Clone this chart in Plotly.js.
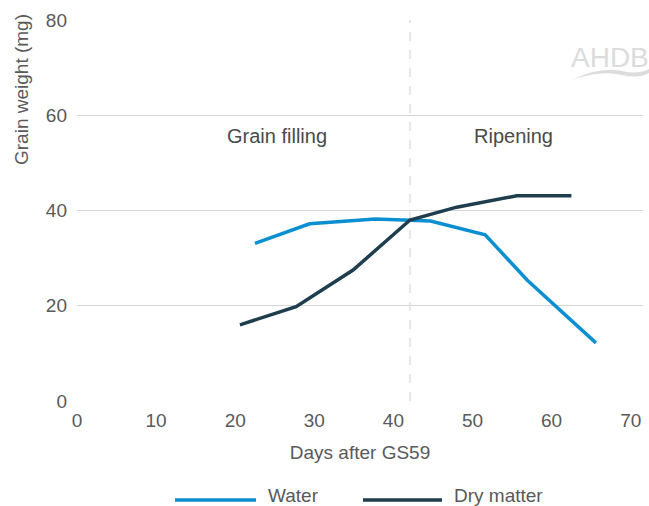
<!DOCTYPE html>
<html>
<head>
<meta charset="utf-8">
<script src="https://cdn.plot.ly/plotly-3.0.1.min.js"></script>
<style>html,body{margin:0;padding:0;background:#fff;}#chart{width:649px;height:506px;}</style>
</head>
<body>
<div id="chart"></div>
<script>
// Data
const waterDays = [22.5, 29.4, 37.7, 44.7, 51.6, 56.9, 65.6];
const waterWeight = [33.1, 37.2, 38.2, 37.8, 34.9, 25.4, 12.2];
const dryDays = [20.6, 27.7, 34.9, 42.1, 48.0, 55.6, 62.5];
const dryWeight = [16.0, 19.8, 27.5, 38.0, 40.7, 43.1, 43.1];
const seriesNames = ["Water", "Dry matter"];
const phaseLabels = ["Grain filling", "Ripening"];
const phaseLabelX = [25.3, 55.2];
const phaseLabelY = 55.7;
const phaseBoundary = 42.1;
const xTicks = [0, 10, 20, 30, 40, 50, 60, 70];
const yTicks = [0, 20, 40, 60, 80];
const xTitle = "Days after GS59";
const yTitle = "Grain weight (mg)";

const WATER = "#0b8fd0", DRY = "#1f3e4d", TXT = "#595959";
const FONT = "Liberation Sans, Arial, Helvetica, sans-serif";

// plot-area geometry for decorative items in paper coordinates
const L = 77, T = 20, W = 566, H = 381;
const px = x => (x - L) / W;
const py = y => (T + H - y) / H;

const traces = [
  {x: waterDays, y: waterWeight, name: seriesNames[0], mode: "lines",
   line: {color: WATER, width: 3.5}, showlegend: false, hoverinfo: "skip"},
  {x: dryDays, y: dryWeight, name: seriesNames[1], mode: "lines",
   line: {color: DRY, width: 3.5}, showlegend: false, hoverinfo: "skip"}
];

const swoosh = "M " + px(572) + "," + py(80) +
  " Q " + px(600) + "," + py(66) + " " + px(622) + "," + py(71) +
  " Q " + px(638) + "," + py(75) + " " + px(649) + "," + py(69) +
  " L " + px(649) + "," + py(73) +
  " Q " + px(638) + "," + py(79) + " " + px(622) + "," + py(75) +
  " Q " + px(600) + "," + py(70) + " " + px(572) + "," + py(80) + " Z";

const layout = {
  width: 649, height: 506,
  margin: {l: L, r: 649 - L - W, t: T, b: 506 - T - H, pad: 0},
  paper_bgcolor: "#fff", plot_bgcolor: "#fff",
  font: {family: FONT, color: TXT, size: 19},
  showlegend: false,
  xaxis: {
    range: [0, W / 79.1 * 10], tickvals: xTicks, ticktext: xTicks.map(String),
    showgrid: false, zeroline: false, showline: false, ticks: "",
    tickfont: {size: 19, color: TXT}, ticklabelstandoff: 6,
    title: {text: xTitle, font: {size: 19, color: TXT}, standoff: 15},
    fixedrange: true
  },
  yaxis: {
    range: [0, 80], tickvals: yTicks, ticktext: yTicks.map(String),
    showgrid: true, gridcolor: "#d6d6d6", gridwidth: 1.2, zeroline: false,
    showline: false, ticks: "", tickfont: {size: 19, color: TXT},
    ticklabelstandoff: 9,
    fixedrange: true
  },
  shapes: [
    {type: "line", xref: "x", yref: "paper", x0: phaseBoundary, x1: phaseBoundary,
     y0: 0, y1: 1, line: {color: "#cfcfcf", width: 1, dash: "dash"}, layer: "below"},
    {type: "line", xref: "paper", yref: "paper", x0: px(175), x1: px(256), y0: py(500), y1: py(500),
     line: {color: WATER, width: 3.5}},
    {type: "line", xref: "paper", yref: "paper", x0: px(363), x1: px(442), y0: py(500), y1: py(500),
     line: {color: DRY, width: 3.5}},
    {type: "path", xref: "paper", yref: "paper", path: swoosh,
     fillcolor: "#dcdcdc", line: {width: 0}}
  ],
  annotations: [
    {x: px(22), y: py(90), xref: "paper", yref: "paper", xanchor: "center", yanchor: "middle",
     text: yTitle, textangle: -90, showarrow: false, font: {size: 19, color: TXT}},
    {x: phaseLabelX[0], y: phaseLabelY, xref: "x", yref: "y", text: phaseLabels[0],
     showarrow: false, font: {size: 20, color: "#4a4a4a"}},
    {x: phaseLabelX[1], y: phaseLabelY, xref: "x", yref: "y", text: phaseLabels[1],
     showarrow: false, font: {size: 20, color: "#4a4a4a"}},
    {x: px(266), y: py(495), xref: "paper", yref: "paper", xanchor: "left", yanchor: "middle",
     text: seriesNames[0], showarrow: false, font: {size: 19, color: TXT}},
    {x: px(452), y: py(495), xref: "paper", yref: "paper", xanchor: "left", yanchor: "middle",
     text: seriesNames[1], showarrow: false, font: {size: 19, color: TXT}},
    {x: px(610), y: py(58), xref: "paper", yref: "paper", xanchor: "center", yanchor: "middle",
     text: "AHDB", showarrow: false, font: {size: 28, color: "#dcdcdc", family: FONT}}
  ]
};

Plotly.newPlot("chart", traces, layout, {staticPlot: true, displayModeBar: false});
</script>
</body>
</html>
